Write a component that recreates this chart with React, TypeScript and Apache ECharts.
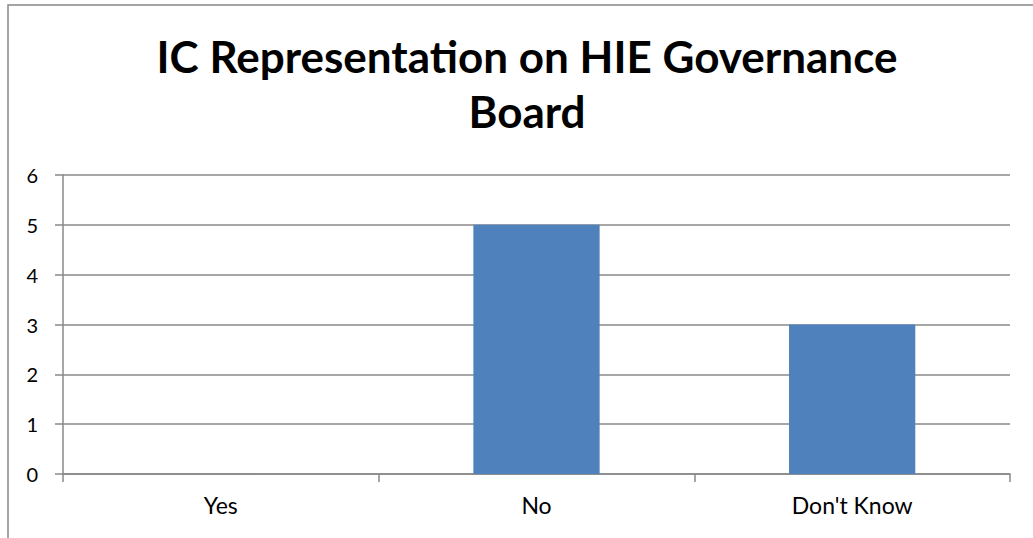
import React, { useEffect, useRef } from "react";
import * as echarts from "echarts";

const categories = ["Yes", "No", "Don't Know"];
const values = [0, 5, 3];
const yTicks = [0, 1, 2, 3, 4, 5, 6];

export default function App() {
  const ref = useRef<HTMLDivElement>(null);
  useEffect(() => {
    const chart = echarts.init(ref.current!, null, { renderer: "svg" });
    chart.setOption({
      animation: false,
      backgroundColor: "#ffffff",
      title: {
        text: "IC Representation on HIE Governance\nBoard",
        left: 522,
        top: 23,
        textAlign: "center",
        textStyle: {
          fontFamily: "Lato",
          fontWeight: "bold",
          fontSize: 44,
          lineHeight: 55,
          color: "#000000",
        },
      },
      graphic: [
        {
          type: "rect",
          shape: { x: 8, y: 5, width: 1100, height: 600 },
          style: { fill: "none", stroke: "#888888", lineWidth: 1.5 },
          silent: true,
        },
      ],
      grid: { left: 63, right: 23, top: 175, bottom: 64 },
      xAxis: {
        type: "category",
        data: categories,
        axisLine: { lineStyle: { color: "#888888", width: 1.5 } },
        axisTick: { show: true, length: 8, lineStyle: { color: "#888888", width: 1.5 } },
        axisLabel: {
          margin: 19,
          fontFamily: "Lato",
          fontSize: 23,
          color: "#000000",
        },
        splitLine: { show: false },
      },
      yAxis: {
        type: "value",
        min: 0,
        max: 6,
        interval: 1,
        axisLine: { show: true, lineStyle: { color: "#888888", width: 1.5 } },
        axisTick: { show: true, length: 8, lineStyle: { color: "#888888", width: 1.5 } },
        axisLabel: {
          margin: 25,
          fontFamily: "Lato",
          fontSize: 20,
          color: "#000000",
          formatter: (v: number) => (yTicks.includes(v) ? String(v) : ""),
        },
        splitLine: { show: true, lineStyle: { color: "#888888", width: 1.5 } },
      },
      series: [
        {
          type: "bar",
          data: values,
          barWidth: "40%",
          itemStyle: { color: "#4F81BD" },
        },
      ],
    });
    return () => chart.dispose();
  }, []);
  return (
    <div
      ref={ref}
      style={{ position: "fixed", left: 0, top: 0, width: 1033, height: 538 }}
    />
  );
}
